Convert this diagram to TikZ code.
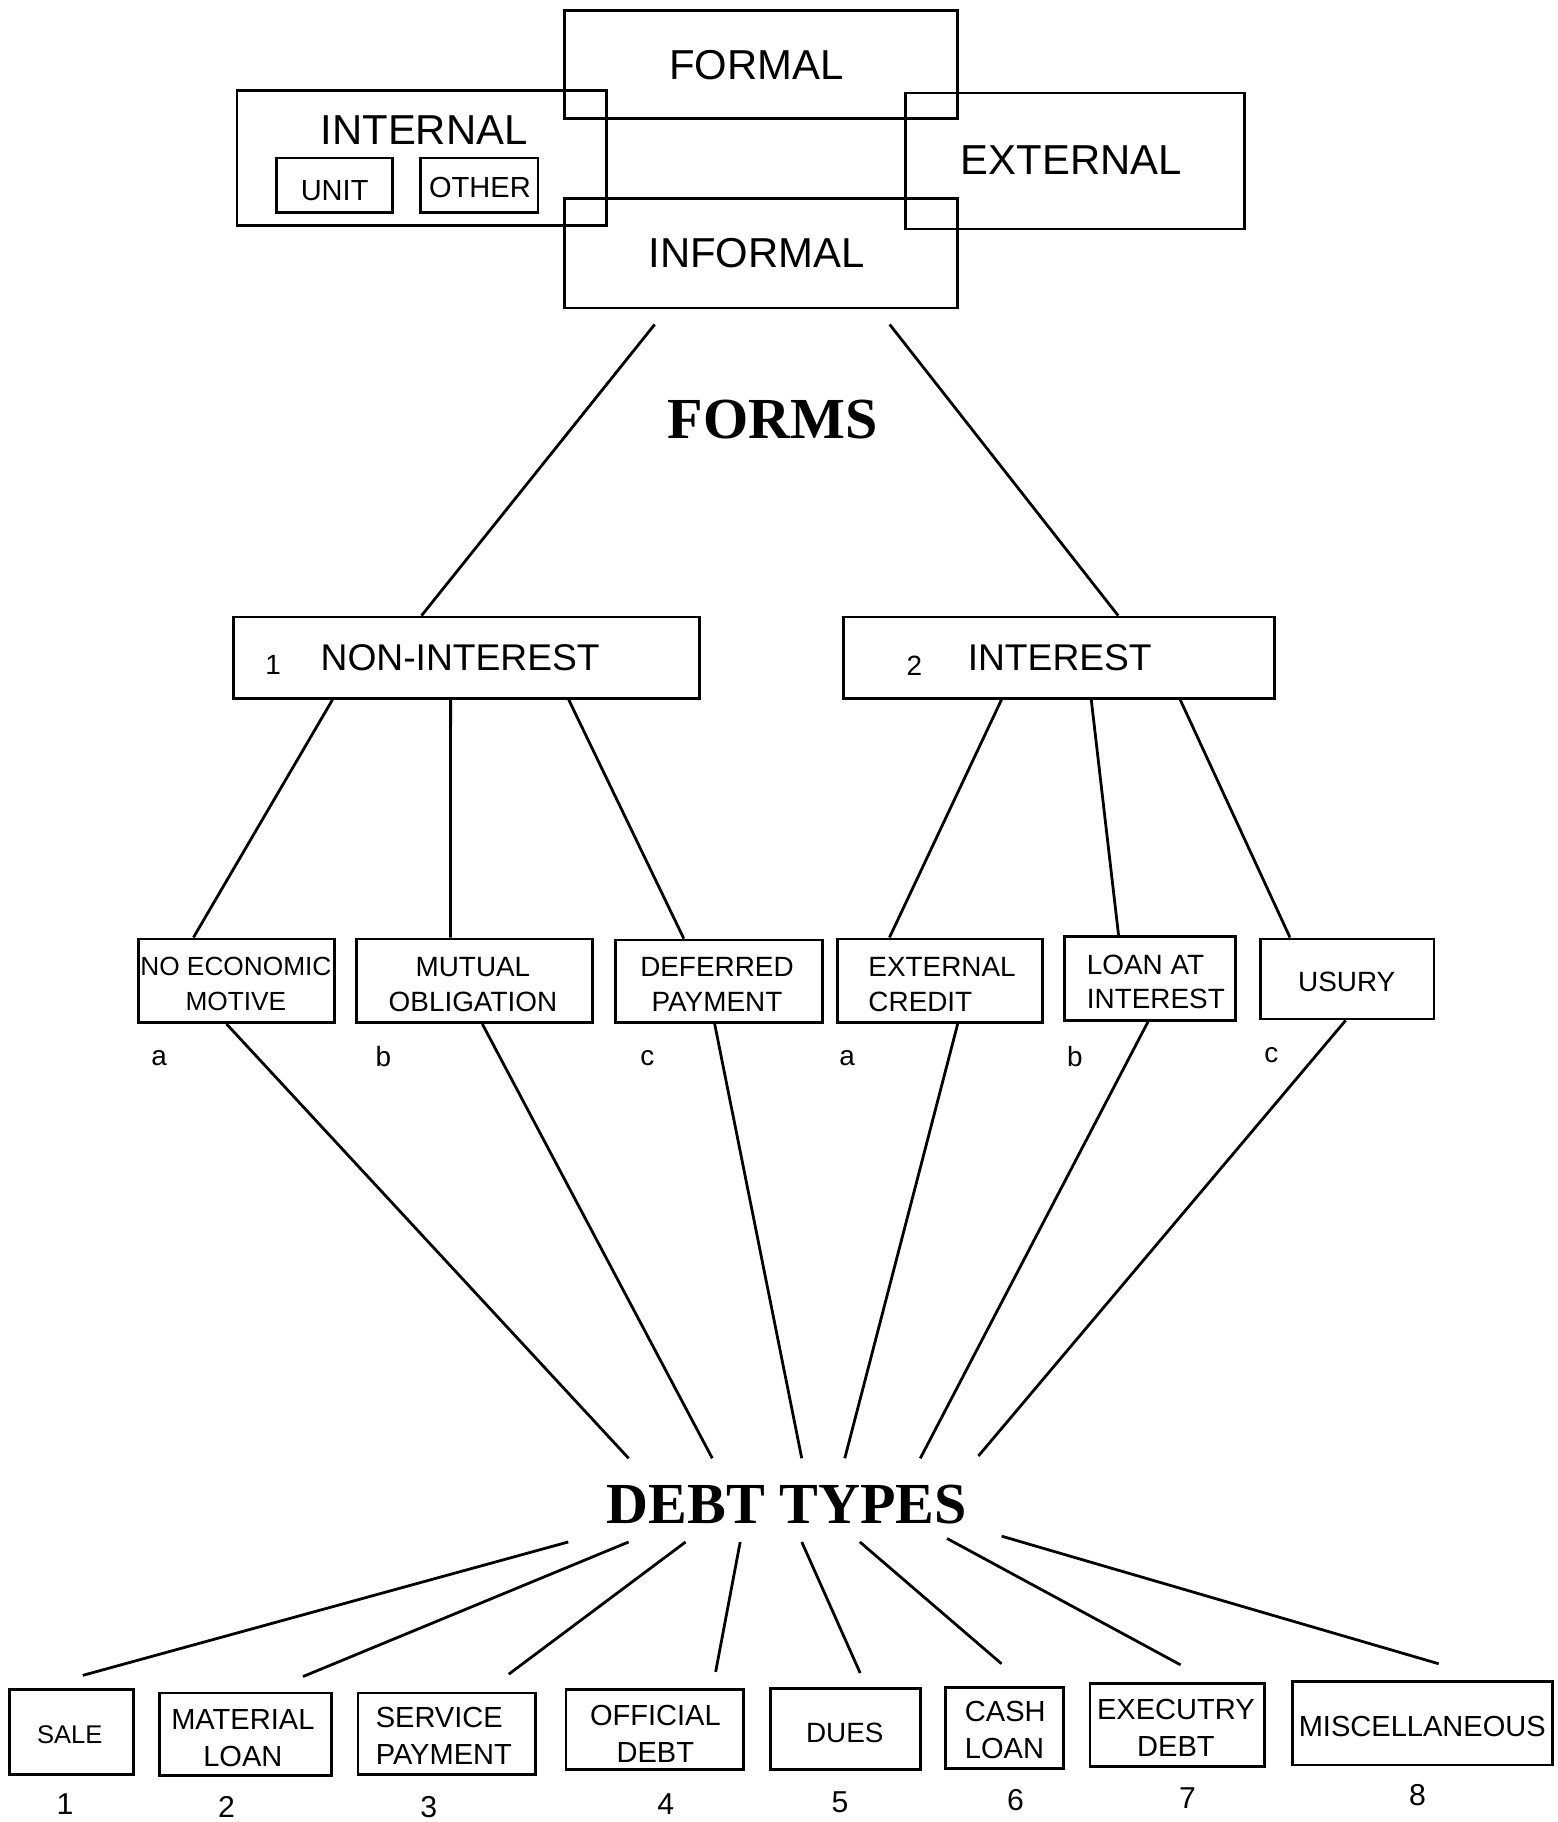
\documentclass[tikz,border=0pt]{standalone}
\usepackage{fontspec}
\setmainfont{Liberation Sans}
\newfontfamily\titlefont{Liberation Serif}
\usetikzlibrary{fit,calc}
\tikzset{
  box/.style={draw, line width=1.2pt, inner sep=0pt},
  conn/.style={line width=1.2pt},
  big/.style={font=\fontsize{18}{21}\selectfont, inner sep=0pt},
  small/.style={font=\fontsize{12.5}{15}\selectfont, inner sep=0pt},
  mid/.style={font=\fontsize{16}{19}\selectfont, inner sep=0pt},
  third/.style={font=\fontsize{12}{15}\selectfont, inner sep=0pt, align=center},
  bottom/.style={font=\fontsize{12.5}{16}\selectfont, inner sep=0pt, align=center},
  num/.style={font=\fontsize{13}{15}\selectfont, inner sep=0pt},
  lab/.style={font=\fontsize{12}{14}\selectfont, inner sep=0pt},
  title/.style={font=\titlefont\bfseries\fontsize{25}{28}\selectfont, inner sep=0pt},
}
\begin{document}
\begin{tikzpicture}[x=0.5pt, y=-0.5pt]
\useasboundingbox (0,0) rectangle (1340,1568);
% top cluster
\node[box, fit={(486,9) (824,102)}] (formal) {};
\node[box, fit={(204,78) (522,194)}] (internal) {};
\node[box, fit={(779,80) (1071,197)}] (external) {};
\node[box, fit={(486,171) (824,265)}] (informal) {};
\node[box, fit={(238,136) (338,183)}] (unit) {};
\node[box, fit={(362,136) (463,183)}] (other) {};
\node[big] (formalt) at (651,56) {FORMAL};
\node[big] (internalt) at (365,112) {INTERNAL};
\node[big] (externalt) at (922,138) {EXTERNAL};
\node[big] (informalt) at (651,218) {INFORMAL};
\node[small] (unitt) at (288,164) {UNIT};
\node[small] (othert) at (413,161) {OTHER};
% forms
\node[title] (forms) at (665,361) {FORMS};
\node[box, fit={(201,531) (602,601)}] (nonint) {};
\node[box, fit={(726,531) (1097,601)}] (inter) {};
\node[lab] (n1) at (235,572) {1};
\node[mid] (nonintt) at (396,566) {NON-INTEREST};
\node[lab] (n2) at (787,573) {2};
\node[mid] (intert) at (912,566) {INTEREST};
\draw[conn] ($(informal.south west)!0.231!(informal.south east)+(0,13)$) -- ($(nonint.north west)!0.404!(nonint.north east)$);
\draw[conn] ($(informal.south west)!0.825!(informal.south east)+(0,13)$) -- ($(inter.north west)!0.636!(inter.north east)$);
% third level
\node[box, fit={(119,808) (288,880)}] (noecon) {};
\node[box, fit={(307,808) (510,880)}] (mutual) {};
\node[box, fit={(530,809) (708,880)}] (deferred) {};
\node[box, fit={(721,808) (897,880)}] (extcred) {};
\node[box, fit={(916,806) (1063,878)}] (loanat) {};
\node[box, fit={(1085,808) (1234,877)}] (usury) {};
\node[third, font=\fontsize{11.3}{15}\selectfont] (noecont) at (203,847) {NO ECONOMIC\\MOTIVE};
\node[third] (mutualt) at (407,847) {MUTUAL\\OBLIGATION};
\node[third] (deferredt) at (617,847) {DEFERRED\\PAYMENT};
\node[third, align=left, anchor=west] (extcredt) at (747,847) {EXTERNAL\\CREDIT};
\node[third, align=left, anchor=west] (loanatt) at (935,845) {LOAN AT\\INTEREST};
\node[third] (usuryt) at (1159,845) {USURY};
\draw[conn] ($(nonint.south west)!0.214!(nonint.south east)$) -- ($(noecon.north west)!0.284!(noecon.north east)$);
\draw[conn] ($(nonint.south west)!0.466!(nonint.south east)$) -- ($(mutual.north west)!0.399!(mutual.north east)$);
\draw[conn] ($(nonint.south west)!0.718!(nonint.south east)$) -- ($(deferred.north west)!0.331!(deferred.north east)$);
\draw[conn] ($(inter.south west)!0.367!(inter.south east)$) -- ($(extcred.north west)!0.256!(extcred.north east)$);
\draw[conn] ($(inter.south west)!0.574!(inter.south east)$) -- ($(loanat.north west)!0.32!(loanat.north east)$);
\draw[conn] ($(inter.south west)!0.779!(inter.south east)$) -- ($(usury.north west)!0.174!(usury.north east)$);
\node[lab] (la1) at (137,911) {a};
\node[lab] (lb1) at (330,909) {b};
\node[lab] (lc1) at (557,911) {c};
\node[lab] (la2) at (729,911) {a};
\node[lab] (lb2) at (925,909) {b};
\node[lab] (lc2) at (1094,908) {c};
% debt types
\node[title] (debt) at (677,1295) {DEBT TYPES};
\coordinate (di1) at (541,1255);
\coordinate (di2) at (613,1255);
\coordinate (di3) at (690,1255);
\coordinate (di4) at (727,1255);
\coordinate (di5) at (792,1255);
\coordinate (di6) at (842,1253);
\draw[conn] ($(noecon.south west)!0.45!(noecon.south east)$) -- (di1);
\draw[conn] ($(mutual.south west)!0.532!(mutual.south east)$) -- (di2);
\draw[conn] ($(deferred.south west)!0.478!(deferred.south east)$) -- (di3);
\draw[conn] ($(extcred.south west)!0.585!(extcred.south east)$) -- (di4);
\draw[conn] ($(loanat.south west)!0.49!(loanat.south east)$) -- (di5);
\draw[conn] ($(usury.south west)!0.49!(usury.south east)$) -- (di6);
% bottom row
\node[box, fit={(8,1454) (115,1527)}] (sale) {};
\node[box, fit={(137,1457) (285,1528)}] (matloan) {};
\node[box, fit={(308,1457) (461,1527)}] (servpay) {};
\node[box, fit={(487,1454) (640,1523)}] (offdebt) {};
\node[box, fit={(663,1453) (792,1523)}] (dues) {};
\node[box, fit={(814,1452) (915,1522)}] (cashloan) {};
\node[box, fit={(938,1449) (1088,1520)}] (execdebt) {};
\node[box, fit={(1112,1447) (1336,1519)}] (misc) {};
\node[bottom, font=\fontsize{11}{16}\selectfont] (salet) at (60,1493) {SALE};
\node[bottom] (matloant) at (209,1496) {MATERIAL\\LOAN};
\node[bottom, align=left, anchor=west] (servpayt) at (323,1494) {SERVICE\\PAYMENT};
\node[bottom] (offdebtt) at (564,1492) {OFFICIAL\\DEBT};
\node[bottom, font=\fontsize{12}{16}\selectfont] (duest) at (727,1491) {DUES};
\node[bottom, align=left, anchor=west] (cashloant) at (830,1489) {CASH\\LOAN};
\node[bottom] (execdebtt) at (1012,1487) {EXECUTRY\\DEBT};
\node[bottom] (misct) at (1224,1486) {MISCELLANEOUS};
\coordinate (do1) at (489,1327);
\coordinate (do2) at (541,1327);
\coordinate (do3) at (590,1327);
\coordinate (do4) at (637,1327);
\coordinate (do5) at (690,1327);
\coordinate (do6) at (740,1327);
\coordinate (do7) at (815,1324);
\coordinate (do8) at (862,1322);
\draw[conn] (do1) -- ($(sale.north west)!0.589!(sale.north east)+(0,-11)$);
\draw[conn] (do2) -- ($(matloan.north west)!0.831!(matloan.north east)+(0,-13)$);
\draw[conn] (do3) -- ($(servpay.north west)!0.843!(servpay.north east)+(0,-15)$);
\draw[conn] (do4) -- ($(offdebt.north west)!0.837!(offdebt.north east)+(0,-14)$);
\draw[conn] (do5) -- ($(dues.north west)!0.597!(dues.north east)+(0,-12)$);
\draw[conn] (do6) -- ($(cashloan.north west)!0.475!(cashloan.north east)+(0,-19)$);
\draw[conn] (do7) -- ($(execdebt.north west)!0.52!(execdebt.north east)+(0,-15)$);
\draw[conn] (do8) -- ($(misc.north west)!0.5625!(misc.north east)+(0,-14)$);
\node[num] (b1) at (56,1553) {1};
\node[num] (b2) at (195,1555) {2};
\node[num] (b3) at (369,1555) {3};
\node[num] (b4) at (573,1553) {4};
\node[num] (b5) at (723,1551) {5};
\node[num] (b6) at (874,1549) {6};
\node[num] (b7) at (1022,1547) {7};
\node[num] (b8) at (1220,1545) {8};
\end{tikzpicture}
\end{document}
